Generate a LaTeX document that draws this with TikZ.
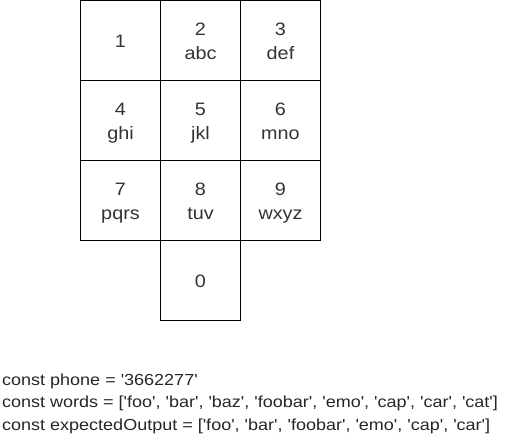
\documentclass[tikz,border=0pt]{standalone}
\usepackage{fontspec}
\usepackage{graphicx}
\setmainfont{Liberation Sans}
\newcommand\myq{\textquotesingle}
\newcommand\kt[1]{\vrule height 18pt depth 4pt width 0pt\scalebox{1.1}[1]{#1}}
\newcommand\ct[1]{\scalebox{1.125}[1]{#1}}
\begin{document}
\begin{tikzpicture}[x=1pt,y=-1pt,
  key/.style={draw=black,line width=1pt,minimum width=80pt,minimum height=80pt,inner sep=0pt,align=center,font=\fontsize{18}{24}\selectfont,text=black!80},
  code/.style={anchor=base west,inner sep=0pt,font=\fontsize{16}{20}\selectfont,text=black!85}]
\useasboundingbox (0,0) rectangle (511,441);
\node[key] (k1) at (120.5,40.5) {\kt{1}};
\node[key] (k2) at (200.5,40.5) {\kt{2}\\\kt{abc}};
\node[key] (k3) at (280.5,40.5) {\kt{3}\\\kt{def}};
\node[key] (k4) at (120.5,120.5) {\kt{4}\\\kt{ghi}};
\node[key] (k5) at (200.5,120.5) {\kt{5}\\\kt{jkl}};
\node[key] (k6) at (280.5,120.5) {\kt{6}\\\kt{mno}};
\node[key] (k7) at (120.5,200.5) {\kt{7}\\\kt{pqrs}};
\node[key] (k8) at (200.5,200.5) {\kt{8}\\\kt{tuv}};
\node[key] (k9) at (280.5,200.5) {\kt{9}\\\kt{wxyz}};
\node[key] (k0) at (200.5,280.5) {\kt{0}};
\node[code] (l1) at (2,385.5) {\ct{const phone = \myq3662277\myq}};
\node[code] (l2) at (2,407) {\ct{const words = [\myq foo\myq, \myq bar\myq, \myq baz\myq, \myq foobar\myq, \myq emo\myq, \myq cap\myq, \myq car\myq, \myq cat\myq]}};
\node[code] (l3) at (2,430.5) {\ct{const expectedOutput = [\myq foo\myq, \myq bar\myq, \myq foobar\myq, \myq emo\myq, \myq cap\myq, \myq car\myq]}};
\end{tikzpicture}
\end{document}
